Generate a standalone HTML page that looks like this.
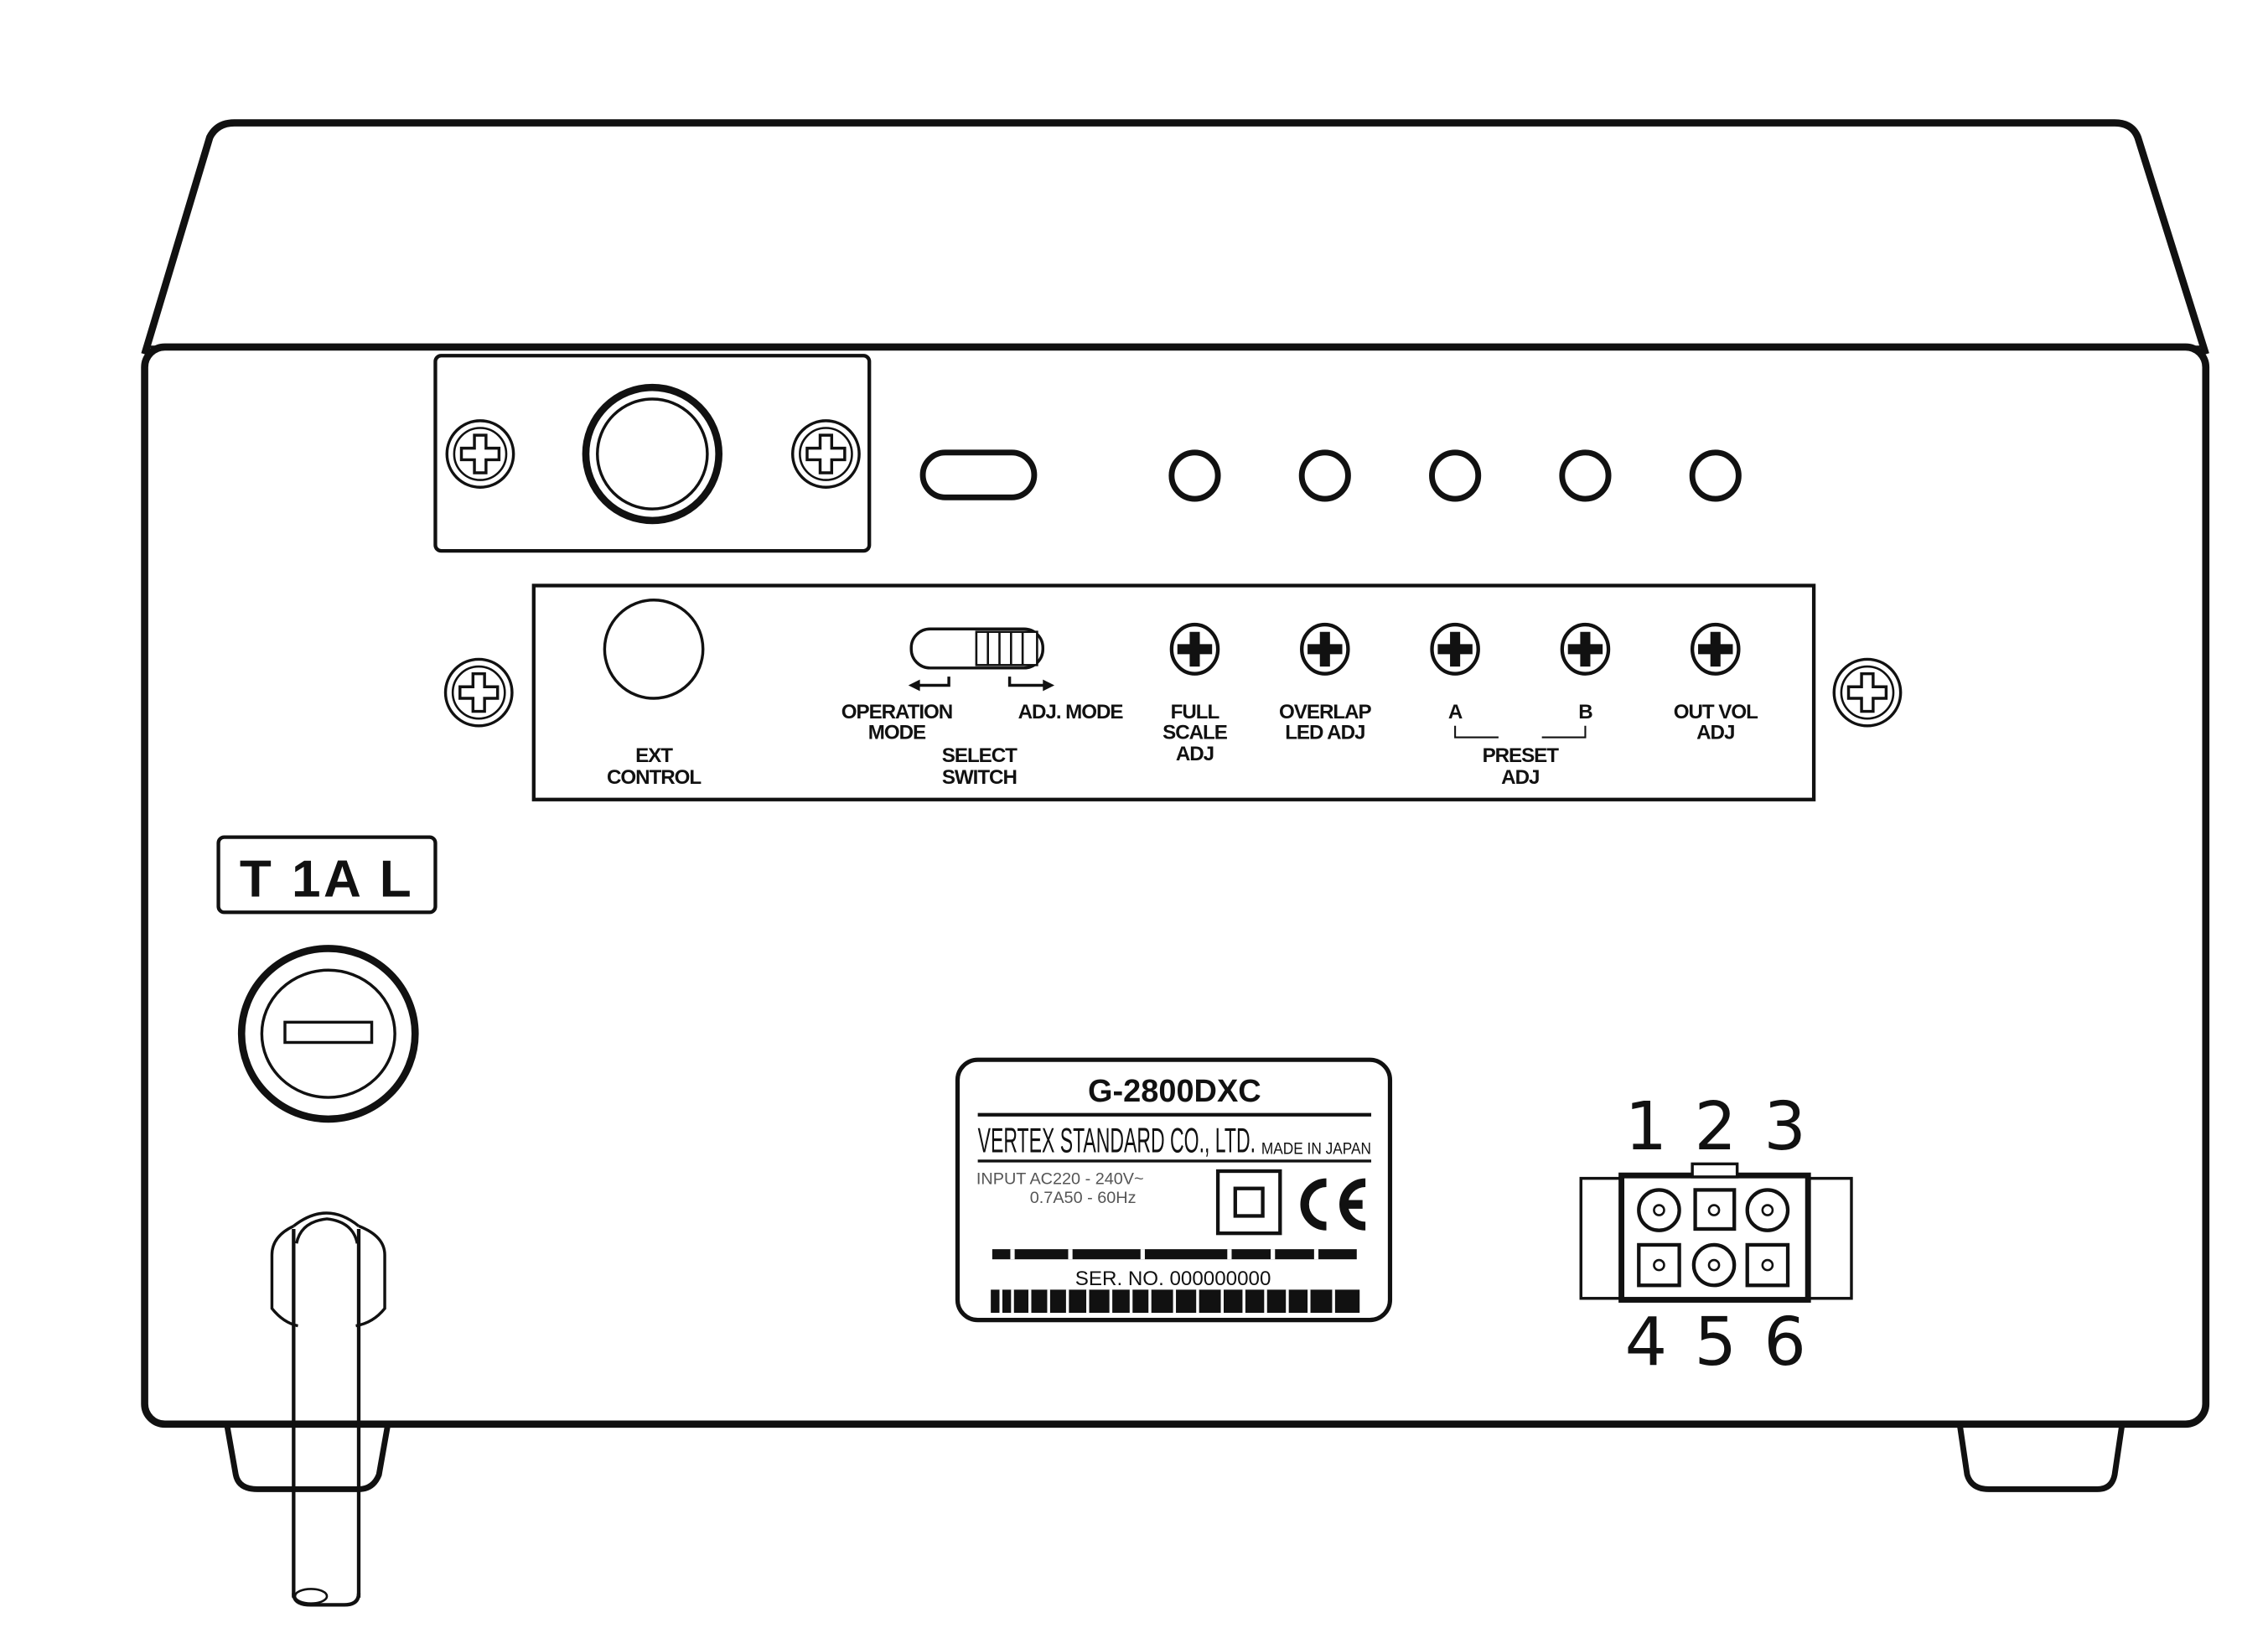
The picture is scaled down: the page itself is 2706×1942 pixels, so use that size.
<!DOCTYPE html>
<html><head><meta charset="utf-8"><style>
html,body{margin:0;padding:0;background:#fff}
svg{display:block}
text{font-family:"Liberation Sans",Arial,sans-serif;fill:#111}
.lb{font-weight:bold;font-size:14px;letter-spacing:-0.6px}
</style></head><body>
<svg width="2706" height="1942" viewBox="0 0 1568 1126" preserveAspectRatio="none" xmlns="http://www.w3.org/2000/svg">
<defs>
<g id="sc"><circle r="23" fill="#fff" stroke="#111" stroke-width="2"/><circle r="18" fill="none" stroke="#111" stroke-width="1.5"/>
<path d="M-4,-13 H4 V-4 H13 V4 H4 V13 H-4 V4 H-13 V-4 H-4 Z" fill="#fff" stroke="#111" stroke-width="2"/></g>
<g id="ss"><ellipse rx="16" ry="17" fill="#fff" stroke="#111" stroke-width="2.5"/>
<path d="M-3.5,-12 H3.5 V-3.5 H12 V3.5 H3.5 V12 H-3.5 V3.5 H-12 V-3.5 H-3.5 Z" fill="#111"/></g>
<g id="kn"><circle r="16" fill="#fff" stroke="#111" stroke-width="4"/></g>
</defs>
<path d="M100,245 L145,95 Q150,85 162,85 L1462,85 Q1474,85 1478,95 L1525,245" fill="none" stroke="#111" stroke-width="5"/>
<rect x="100" y="240" width="1425" height="745" rx="14" fill="#fff" stroke="#111" stroke-width="5"/>
<line x1="104" y1="240" x2="1521" y2="240" stroke="#111" stroke-width="2"/>
<path d="M157,986 L163,1020 Q165,1030 178,1030 L248,1030 Q258,1030 262,1020 L268,986" fill="none" stroke="#111" stroke-width="4"/>
<path d="M1355,986 L1360,1020 Q1363,1030 1375,1030 L1450,1030 Q1460,1030 1462,1020 L1467,986" fill="none" stroke="#111" stroke-width="4"/>
<rect x="301" y="246" width="300" height="135" rx="4" fill="#fff" stroke="#111" stroke-width="2.5"/>
<use href="#sc" x="332" y="314"/><use href="#sc" x="571" y="314"/>
<circle cx="451" cy="314" r="46" fill="#fff" stroke="#111" stroke-width="5"/>
<circle cx="451" cy="314" r="38" fill="none" stroke="#111" stroke-width="2"/>
<rect x="638" y="313" width="77" height="31" rx="15.5" fill="#fff" stroke="#111" stroke-width="4"/>
<use href="#kn" x="826" y="329"/><use href="#kn" x="916" y="329"/><use href="#kn" x="1006" y="329"/><use href="#kn" x="1096" y="329"/><use href="#kn" x="1186" y="329"/>
<rect x="369" y="405" width="885" height="148" fill="#fff" stroke="#111" stroke-width="2.5"/>
<use href="#sc" x="331" y="479"/><use href="#sc" x="1291" y="479"/>
<circle cx="452" cy="449" r="34" fill="#fff" stroke="#111" stroke-width="2"/>
<text class="lb" x="452" y="527" text-anchor="middle">EXT</text>
<text class="lb" x="452" y="542" text-anchor="middle">CONTROL</text>
<rect x="630" y="435" width="91" height="27" rx="13" fill="#fff" stroke="#111" stroke-width="2"/>
<rect x="675" y="437" width="42" height="23" fill="#fff" stroke="#111" stroke-width="1.5"/>
<path d="M683,437V460M691,437V460M699,437V460M707,437V460" stroke="#111" stroke-width="1.5"/>
<path d="M656,468 V474 H632" fill="none" stroke="#111" stroke-width="2"/><path d="M628,474 l8,-4 v8z" fill="#111"/>
<path d="M698,468 V474 H723" fill="none" stroke="#111" stroke-width="2"/><path d="M729,474 l-8,-4 v8z" fill="#111"/>
<text class="lb" x="620" y="497" text-anchor="middle">OPERATION</text>
<text class="lb" x="620" y="511" text-anchor="middle">MODE</text>
<text class="lb" x="740" y="497" text-anchor="middle">ADJ. MODE</text>
<text class="lb" x="677" y="527" text-anchor="middle">SELECT</text>
<text class="lb" x="677" y="542" text-anchor="middle">SWITCH</text>
<use href="#ss" x="826" y="449"/><use href="#ss" x="916" y="449"/><use href="#ss" x="1006" y="449"/><use href="#ss" x="1096" y="449"/><use href="#ss" x="1186" y="449"/>
<text class="lb" x="826" y="497" text-anchor="middle">FULL</text>
<text class="lb" x="826" y="511" text-anchor="middle">SCALE</text>
<text class="lb" x="826" y="526" text-anchor="middle">ADJ</text>
<text class="lb" x="916" y="497" text-anchor="middle">OVERLAP</text>
<text class="lb" x="916" y="511" text-anchor="middle">LED ADJ</text>
<text class="lb" x="1006" y="497" text-anchor="middle">A</text>
<text class="lb" x="1096" y="497" text-anchor="middle">B</text>
<path d="M1006,502 V510 H1036 M1096,502 V510 H1066" fill="none" stroke="#111" stroke-width="1.2"/>
<text class="lb" x="1051" y="527" text-anchor="middle">PRESET</text>
<text class="lb" x="1051" y="542" text-anchor="middle">ADJ</text>
<text class="lb" x="1186" y="497" text-anchor="middle">OUT VOL</text>
<text class="lb" x="1186" y="511" text-anchor="middle">ADJ</text>
<rect x="151" y="579" width="150" height="52" rx="4" fill="#fff" stroke="#111" stroke-width="2.5"/>
<text x="226" y="620" text-anchor="middle" style="font-weight:bold;font-size:36px;letter-spacing:2px">T 1A L</text>
<ellipse cx="227" cy="715" rx="60" ry="59" fill="#fff" stroke="#111" stroke-width="5"/>
<ellipse cx="227" cy="715" rx="46" ry="44" fill="none" stroke="#111" stroke-width="2"/>
<rect x="197" y="707" width="60" height="14" fill="#fff" stroke="#111" stroke-width="2"/>
<path d="M203,848 Q188,855 188,868 V905 Q196,915 206,917 M248,848 Q266,855 266,868 V905 Q258,915 246,917" fill="none" stroke="#111" stroke-width="2"/>
<path d="M203,848 Q226,830 248,848" fill="none" stroke="#111" stroke-width="2"/>
<path d="M203,850 V1105 M248,850 V1105" stroke="#111" stroke-width="2.5"/>
<path d="M205,860 Q208,845 226,843 Q244,845 247,860" fill="none" stroke="#111" stroke-width="2"/>
<path d="M203,1102 Q203,1110 215,1110 L238,1110 Q248,1110 248,1102" fill="none" stroke="#111" stroke-width="2.5"/>
<ellipse cx="215" cy="1104" rx="11" ry="5" fill="#fff" stroke="#111" stroke-width="1.5"/>
<rect x="662" y="733" width="299" height="180" rx="14" fill="#fff" stroke="#111" stroke-width="3"/>
<text x="812" y="762" text-anchor="middle" style="font-weight:bold;font-size:22px">G-2800DXC</text>
<line x1="676" y1="771" x2="948" y2="771" stroke="#111" stroke-width="2.5"/>
<text x="676" y="797" textLength="192" lengthAdjust="spacingAndGlyphs" style="font-size:24px">VERTEX STANDARD CO., LTD.</text>
<text x="872" y="798" textLength="76" lengthAdjust="spacingAndGlyphs" style="font-size:11px">MADE IN JAPAN</text>
<line x1="676" y1="803" x2="948" y2="803" stroke="#111" stroke-width="2"/>
<text x="675" y="819" style="font-size:11.5px;fill:#555">INPUT AC220 - 240V~</text>
<text x="712" y="832" style="font-size:11.5px;fill:#555">0.7A50 - 60Hz</text>
<rect x="842" y="810" width="43" height="43" fill="#fff" stroke="#111" stroke-width="2.5"/>
<rect x="854" y="822" width="19" height="19" fill="#fff" stroke="#111" stroke-width="2.5"/>
<path d="M917,818 A14,14 0 1 0 917,848" fill="none" stroke="#111" stroke-width="6"/>
<path d="M944,818 A14,14 0 1 0 944,848 M928,833 H942" fill="none" stroke="#111" stroke-width="6"/>
<rect x="686" y="864" width="252" height="7" fill="#111"/>
<path d="M700,864v7M740,864v7M790,864v7M850,864v7M880,864v7M910,864v7" stroke="#fff" stroke-width="3"/>
<text x="811" y="889" text-anchor="middle" style="font-size:14px">SER. NO. 000000000</text>
<rect x="685" y="892" width="255" height="16" fill="#111"/>
<path d="M692,892v16M700,892v16M712,892v16M725,892v16M738,892v16M752,892v16M768,892v16M782,892v16M795,892v16M812,892v16M828,892v16M845,892v16M860,892v16M875,892v16M890,892v16M905,892v16M922,892v16" stroke="#fff" stroke-width="2"/>
<rect x="1093" y="815" width="187" height="83" fill="#fff" stroke="#111" stroke-width="2"/>
<rect x="1121" y="813" width="129" height="86" fill="#fff" stroke="#111" stroke-width="4"/>
<rect x="1170" y="805" width="31" height="9" fill="#fff" stroke="#111" stroke-width="2"/>
<circle cx="1147" cy="837" r="14" fill="#fff" stroke="#111" stroke-width="2.5"/><circle cx="1147" cy="837" r="3.5" fill="none" stroke="#111" stroke-width="1.5"/>
<rect x="1172" y="823" width="27" height="27" fill="#fff" stroke="#111" stroke-width="2.5"/><circle cx="1185" cy="837" r="3.5" fill="none" stroke="#111" stroke-width="1.5"/>
<circle cx="1222" cy="837" r="14" fill="#fff" stroke="#111" stroke-width="2.5"/><circle cx="1222" cy="837" r="3.5" fill="none" stroke="#111" stroke-width="1.5"/>
<rect x="1133" y="861" width="28" height="28" fill="#fff" stroke="#111" stroke-width="2.5"/><circle cx="1147" cy="875" r="3.5" fill="none" stroke="#111" stroke-width="1.5"/>
<circle cx="1185" cy="875" r="14" fill="#fff" stroke="#111" stroke-width="2.5"/><circle cx="1185" cy="875" r="3.5" fill="none" stroke="#111" stroke-width="1.5"/>
<rect x="1208" y="861" width="28" height="28" fill="#fff" stroke="#111" stroke-width="2.5"/><circle cx="1222" cy="875" r="3.5" fill="none" stroke="#111" stroke-width="1.5"/>
<g style="font-size:46px" text-anchor="middle">
<text x="1138" y="795" style="font-family:'DejaVu Sans',sans-serif">1</text>
<text x="1186" y="795" style="font-family:'DejaVu Sans',sans-serif">2</text>
<text x="1234" y="795" style="font-family:'DejaVu Sans',sans-serif">3</text>
<text x="1138" y="944" style="font-family:'DejaVu Sans',sans-serif">4</text>
<text x="1186" y="944" style="font-family:'DejaVu Sans',sans-serif">5</text>
<text x="1234" y="944" style="font-family:'DejaVu Sans',sans-serif">6</text>
</g>
</svg>
</body></html>
